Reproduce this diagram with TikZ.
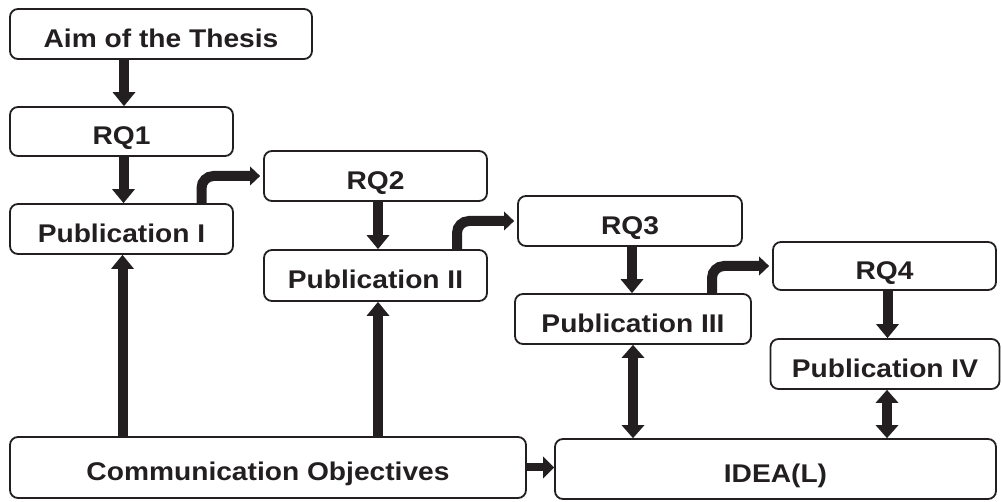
\documentclass[tikz,border=0pt]{standalone}
\usepackage{fontspec}
\setmainfont{Liberation Sans}[FakeStretch=1.1]
\usetikzlibrary{arrows.meta}
\definecolor{ink}{RGB}{35,31,32}
\begin{document}
\begin{tikzpicture}[x=1pt,y=-1pt,
  box/.style={draw=ink, line width=1.8pt, rounded corners=8pt, inner sep=0pt, text=ink,
    font=\fontsize{25.6}{28}\selectfont\bfseries, text height=27pt, text depth=0pt, align=center},
  arr/.style={draw=ink, line width=10pt, -{Triangle[width=23pt,length=14pt,line width=0pt]}},
  darr/.style={draw=ink, line width=10pt, {Triangle[width=23pt,length=13pt,line width=0pt]}-{Triangle[width=23pt,length=13pt,line width=0pt]}},
  barr/.style={draw=ink, line width=10pt, rounded corners=12pt, -{Triangle[width=19pt,length=10pt,line width=0pt]}, shorten >=3pt},
  sarr/.style={draw=ink, line width=8pt, -{Triangle[width=22pt,length=11pt,line width=0pt]}}]
\useasboundingbox (0,0) rectangle (1002,502);
\node[box, minimum width=302pt, minimum height=50pt] (aim) at (161,34) {Aim of the Thesis};
\node[box, minimum width=223pt, minimum height=49pt] (rq1) at (121.5,131.5) {RQ1};
\node[box, minimum width=223pt, minimum height=50pt] (p1) at (121.5,229) {Publication I};
\node[box, minimum width=223pt, minimum height=50pt] (rq2) at (375.5,176) {RQ2};
\node[box, minimum width=223pt, minimum height=51pt] (p2) at (375.5,275.5) {Publication II};
\node[box, minimum width=224pt, minimum height=50pt] (rq3) at (630,221) {RQ3};
\node[box, minimum width=236pt, minimum height=50pt] (p3) at (633,319) {Publication III};
\node[box, minimum width=223pt, minimum height=48pt] (rq4) at (884.5,266) {RQ4};
\node[box, minimum width=229pt, minimum height=50pt] (p4) at (885,364) {Publication IV};
\node[box, minimum width=516pt, minimum height=61pt] (co) at (268,467.5) {Communication Objectives};
\node[box, minimum width=441pt, minimum height=60pt] (idea) at (775.5,469) {IDEA(L)};
% vertical arrows
\draw[arr] ([xshift=2.5pt]rq1.north |- aim.south) -- ([xshift=2.5pt]rq1.north);
\draw[arr] ([xshift=2pt]rq1.south) -- ([xshift=2pt]rq1.south |- p1.north);
\draw[arr] ([xshift=2.5pt]rq2.south) -- ([xshift=2.5pt]rq2.south |- p2.north);
\draw[arr] ([xshift=2pt]rq3.south) -- ([xshift=2pt]rq3.south |- p3.north);
\draw[arr] ([xshift=3pt]rq4.south) -- ([xshift=3pt]rq4.south |- p4.north);
\draw[arr] ([xshift=1pt]p1.south |- co.north) -- ([xshift=1pt]p1.south);
\draw[arr] ([xshift=2.5pt]p2.south |- co.north) -- ([xshift=2.5pt]p2.south);
% bidirectional
\draw[darr] (p3.south) -- (p3.south |- idea.north);
\draw[darr] ([xshift=2pt]p4.south) -- ([xshift=2pt]p4.south |- idea.north);
% horizontal
\draw[sarr] (co.east) -- (co.east -| idea.west);
% bent arrows
\draw[barr] ([xshift=80pt]p1.north) |- (rq2.west);
\draw[barr] ([xshift=81.5pt]p2.north) |- (rq3.west);
\draw[barr] ([xshift=79pt]p3.north) |- (rq4.west);
\end{tikzpicture}
\end{document}
